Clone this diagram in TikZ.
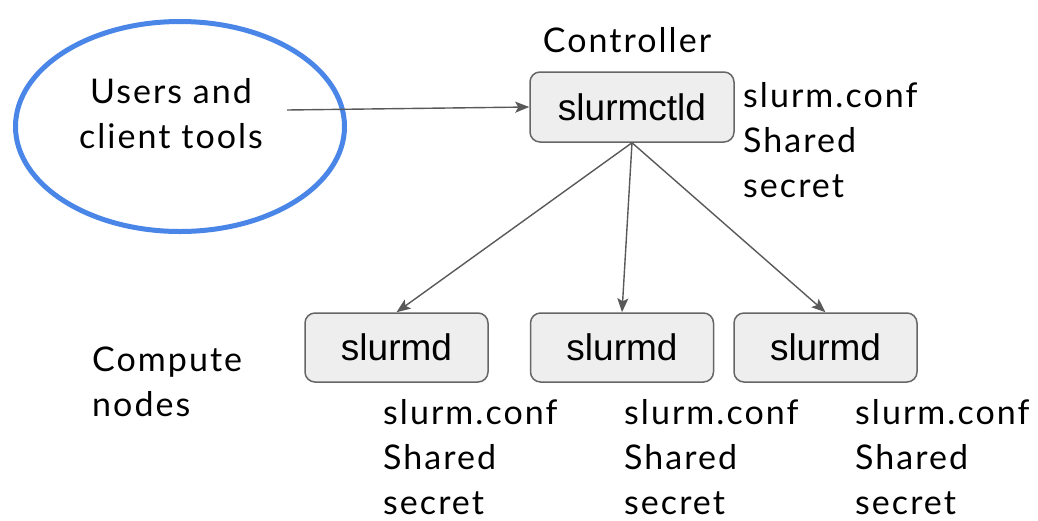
\documentclass[tikz,border=0pt]{standalone}
\usepackage{fontspec}
\setmainfont{Lato}[LetterSpace=6]
\newfontfamily\boxfont{Liberation Sans}
\usetikzlibrary{shapes.geometric,arrows.meta}

\definecolor{userblue}{HTML}{4A86E8}
\definecolor{boxfill}{HTML}{EEEEEE}
\definecolor{boxline}{HTML}{666666}
\definecolor{linkgray}{HTML}{595959}

\tikzset{
  daemon/.style={draw=boxline, fill=boxfill, line width=1.5pt, rounded corners=10pt,
    inner sep=0pt, font=\boxfont\fontsize{37}{40}\selectfont},
  note/.style={align=left, anchor=base west, inner sep=0pt,
    font=\fontsize{34}{45}\selectfont},
  link/.style={draw=linkgray, line width=1.4pt, -{Stealth[length=14pt,width=11pt,inset=3pt]}},
}

\begin{document}
\begin{tikzpicture}[x=1pt, y=-1pt]
  \useasboundingbox (0,0) rectangle (1038,520);

  % Users side
  \node[ellipse, draw=userblue, line width=5pt, minimum width=329pt, minimum height=210pt,
    inner sep=0pt] (users) at (180,126.5) {};
  \node[align=center, inner sep=0pt, font=\fontsize{34}{45}\selectfont] (userstext) at (171,114)
    {Users and\\client tools};
  \coordinate (usersout) at (287,110);

  % Controller (base anchor sits on the last line)
  \node[daemon, minimum width=204pt, minimum height=70pt] (ctl) at (632,107) {slurmctld};
  \node[font=\fontsize{34}{45}\selectfont, inner sep=0pt] (ctltitle) at (627,40) {Controller};
  \node[note] (ctlfiles) at (743,197) {slurm.conf\\Shared\\secret};

  % Compute nodes
  \node[note] (computetitle) at (92,416) {Compute\\nodes};
  \node[daemon, minimum width=183pt, minimum height=69pt] (sd1) at (396.5,347.5) {slurmd};
  \node[daemon, minimum width=183pt, minimum height=69pt] (sd2) at (622,347.5) {slurmd};
  \node[daemon, minimum width=183pt, minimum height=69pt] (sd3) at (825.5,347.5) {slurmd};
  \node[note] (sd1files) at (383,514) {slurm.conf\\Shared\\secret};
  \node[note] (sd2files) at (624,514) {slurm.conf\\Shared\\secret};
  \node[note] (sd3files) at (855,514) {slurm.conf\\Shared\\secret};

  % Links
  \draw[link] (usersout) -- (ctl.west);
  \draw[link] (ctl.south) -- (sd1.north);
  \draw[link] (ctl.south) -- (sd2.north);
  \draw[link] (ctl.south) -- (sd3.north);
\end{tikzpicture}
\end{document}
